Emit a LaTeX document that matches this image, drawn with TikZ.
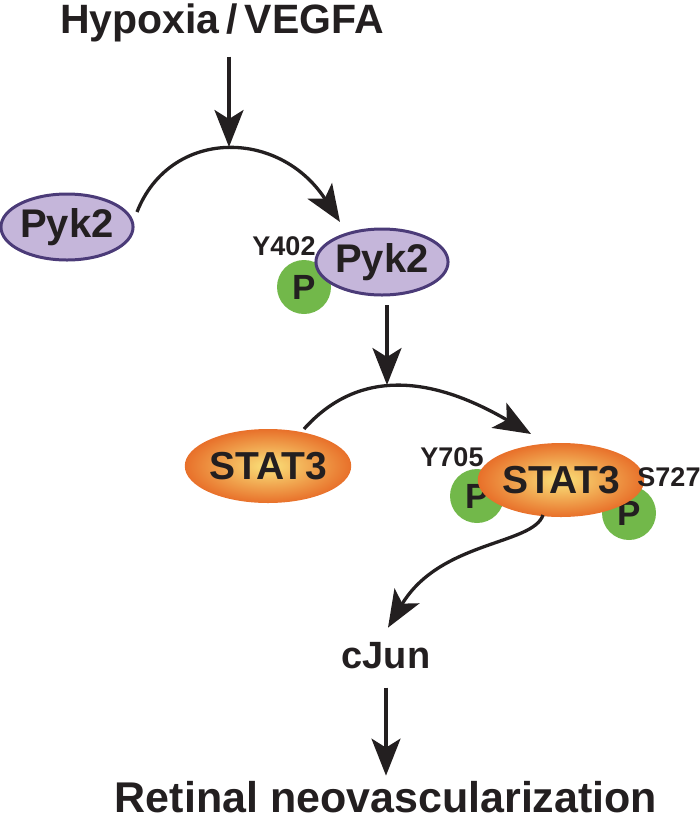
\documentclass[tikz,border=0pt]{standalone}
\usepackage{fontspec}
\setmainfont{Liberation Sans}
\usepackage{xcolor}
\usetikzlibrary{arrows.meta, shapes.geometric, calc}

\definecolor{pykfill}{HTML}{C5B6DA}
\definecolor{pykline}{HTML}{4B3B78}
\definecolor{statout}{HTML}{E8702A}
\definecolor{statin}{HTML}{FAE27A}
\definecolor{phosgreen}{HTML}{72B84A}
\definecolor{inkdark}{HTML}{231F20}

\begin{document}
\begin{tikzpicture}[x=1pt, y=-1pt,
    >={Stealth[length=37pt, width=29pt, inset=9pt]},
    flow/.style={->, line width=3.3pt, draw=inkdark},
    pyk/.style={ellipse, draw=pykline, fill=pykfill, line width=3pt,
        minimum width=127pt, minimum height=66pt, inner sep=0pt,
        font=\fontsize{40}{40}\selectfont\bfseries, text=inkdark},
    stat/.style={ellipse, inner color=statin, outer color=statout,
        minimum width=146pt, minimum height=74pt, inner sep=0pt,
        font=\fontsize{39}{39}\selectfont\bfseries, text=inkdark},
    phos/.style={circle, fill=phosgreen, minimum size=54pt, inner sep=0pt,
        font=\fontsize{35}{35}\selectfont\bfseries, text=inkdark},
    site/.style={inner sep=0pt, font=\fontsize{27}{27}\selectfont\bfseries, text=inkdark},
    heading/.style={inner sep=0pt, anchor=base, text=inkdark}]

    \useasboundingbox (0,0) rectangle (700,823);

    % =================================================================
    % 1. TIEU DE VA CAC NUT TREN
    % =================================================================
    \node[heading, font=\fontsize{41}{41}\selectfont\bfseries] (title) at (222,33) {Hypoxia\,/\,VEGFA};

    % P duoc ve truoc de ellipse de len
    \node[phos] (phosA) at (304,287) {P};
    \node[pyk] (pykA) at (67,227) {Pyk2};
    \node[pyk] (pykB) at (382,262) {Pyk2};
    \node[site] (siteA) at (284,246) {Y402};

    % =================================================================
    % 2. CAC NUT STAT3
    % =================================================================
    \node[phos] (phosB) at (477,496) {P};
    \node[phos] (phosC) at (629,513) {P};
    \node[stat] (statA) at (268,466) {STAT3};
    \node[stat] (statB) at (561,480) {STAT3};
    \node[site] (siteB) at (452,457) {Y705};
    \node[site] (siteC) at (669,477) {S727};

    % =================================================================
    % 3. CAC NUT DUOI
    % =================================================================
    \node[heading, font=\fontsize{38}{38}\selectfont\bfseries] (cjun) at (386,668) {cJun};
    \node[heading, font=\fontsize{43}{43}\selectfont\bfseries] (rnv) at (386,812) {Retinal neovascularization};

    % =================================================================
    % 4. CAC MUI TEN
    % =================================================================
    \coordinate (peakA) at (229,147);
    \coordinate (peakB) at (387,385);

    \draw[flow] ($(title.south -| peakA)+(0,15)$) -- (peakA);
    \draw[flow] ([shift={(70,-15)}]pykA.center) .. controls +(33,-84) and +(-61,-94) .. ([shift={(-42,-40)}]pykB.center);

    \draw[flow] ([shift={(5,43)}]pykB.center) -- (peakB);
    \draw[flow] ([shift={(36,-37)}]statA.center) .. controls +(51,-57) and +(-106,-62) .. ([shift={(-30,-46)}]statB.center);

    \draw[flow] ([shift={(-18,35)}]statB.center) .. controls +(-10,30) and +(52,-87) .. ($(cjun.north)+(2,-14)$);
    \draw[flow] ($(cjun.south)+(0,19)$) -- ($(rnv.north)+(0,-5)$);

\end{tikzpicture}
\end{document}
